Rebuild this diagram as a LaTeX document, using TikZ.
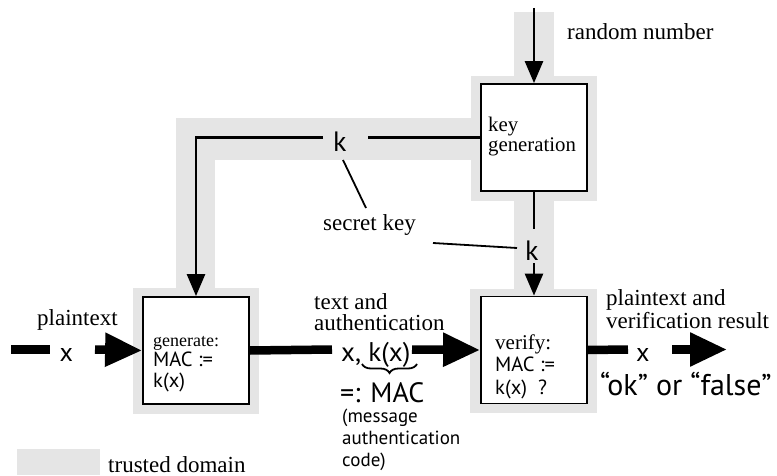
\documentclass[tikz,border=0pt]{standalone}
\usepackage{fontspec}
\setmainfont{Liberation Serif}
\newfontfamily\lsans{PT Sans}
\usetikzlibrary{arrows.meta,decorations.pathreplacing,calc}
\definecolor{trusted}{RGB}{229,229,229}

\begin{document}
\begin{tikzpicture}[x=1pt,y=-1pt,
  lbl/.style={font=\fontsize{23}{21}\selectfont, inner sep=0pt, anchor=base west, align=left},
  sanslbl/.style={font=\lsans\fontsize{27}{27}\selectfont, inner sep=0pt, anchor=base west},
  procbox/.style={draw, line width=1.8pt, fill=white, minimum width=106pt, minimum height=107pt, inner sep=0pt},
  boxtext/.style={inner sep=0pt, anchor=base west, align=left},
  keyline/.style={line width=2.7pt},
  keyarrow/.style={line width=2.7pt, -{Triangle[length=22pt,width=18pt]}},
  dataline/.style={line width=8.5pt},
  dataarrow/.style={line width=8.5pt, -{Triangle[length=37pt,width=32pt]}},
  leader/.style={line width=1.8pt},
]
\useasboundingbox (0,0) rectangle (777,476);

% trusted domain (union of light grey bands and halos)
\fill[trusted] (514,12) rectangle (554,77);
\fill[trusted] (471,76) rectangle (597,201);
\fill[trusted] (176,118) rectangle (472,160);
\fill[trusted] (176,159) rectangle (215,289);
\fill[trusted] (133,288) rectangle (259,414);
\fill[trusted] (514,200) rectangle (554,290);
\fill[trusted] (470,289) rectangle (597,413);

% processing blocks
\node[procbox] (keygen) at (534,137.5) {};
\node[procbox] (gen) at (196,350.5) {};
\node[procbox] (ver) at (534,350) {};

% multi-line texts are placed by the baseline of their last line
\node[boxtext, font=\fontsize{20.8}{20}\selectfont] (keygentext) at (488,152) {key\\generation};
\node[boxtext, font=\fontsize{18}{20.5}\selectfont] (gentext) at (153,387)
  {generate:\\{\lsans\fontsize{20.5}{20.5}\selectfont MAC :=}\\{\lsans\fontsize{20.5}{20.5}\selectfont k(x)}};
\node[boxtext, font=\fontsize{21}{22.5}\selectfont] (vertext) at (495,394)
  {verify:\\{\lsans\fontsize{20.5}{22.5}\selectfont MAC :=}\\{\lsans\fontsize{20.5}{22.5}\selectfont k(x)\ \ ?}};

% key distribution
\coordinate (rnd) at (534,8);
\draw[keyarrow] (rnd) -- (keygen.north);
\node[lbl] (rndlabel) at (567,40) {random number};

\node[sanslbl, font=\lsans\fontsize{28}{28}\selectfont] (ktop) at (333,152) {k};
\coordinate (kgapR) at (368,137.5);
\coordinate (kgapL) at (323,137.5);
\draw[keyline] (keygen.west) -- (kgapR);
\draw[keyarrow] (kgapL) -| (gen.north);

\node[sanslbl, font=\lsans\fontsize{28}{28}\selectfont] (kver) at (525,260) {k};
\coordinate (kvA) at (534,229);
\coordinate (kvB) at (534,263);
\draw[keyline] (keygen.south) -- (kvA);
\draw[keyarrow] (kvB) -- (ver.north);

\node[lbl] (secret) at (323,230) {secret key};
\coordinate (sA) at (343,160);
\coordinate (sB) at (366,208);
\coordinate (sC) at (433,243);
\coordinate (sD) at (517,248);
\draw[leader] (sA) -- (sB);
\draw[leader] (sC) -- (sD);

% message flow
\node[lbl] (plainlabel) at (37,325) {plaintext};
\node[sanslbl, font=\lsans\fontsize{26}{26}\selectfont] (xin) at (59.5,361) {x};
\coordinate (inA) at (11,349.5);
\coordinate (inB) at (50,349.5);
\coordinate (inC) at (95,349.5);
\draw[dataline] (inA) -- (inB);
\draw[dataarrow] (inC) -- (gen.west);

\node[lbl] (taglabel) at (314,330) {text and\\authentication};
\node[sanslbl] (xk) at (341,361) {x, k(x)};
\coordinate (mA) at (332,349.5);
\coordinate (mB) at (412,349.5);
\draw[dataline] (gen.east) -- (mA);
\draw[dataarrow] (mB) -- (ver.west);
\coordinate (brL) at (362,364);
\coordinate (brR) at (417,364);
\draw[line width=1.8pt, decorate, decoration={brace, mirror, amplitude=9pt}] (brL) -- (brR);
\node[sanslbl, font=\lsans\fontsize{28}{28}\selectfont] (mac) at (340,402) {=: MAC};
\node[boxtext, font=\lsans\fontsize{19}{22}\selectfont] (macnote) at (342,466)
  {(message\\authentication\\code)};

\node[lbl] (outlabel) at (606,328) {plaintext and\\verification result};
\node[sanslbl, font=\lsans\fontsize{26}{26}\selectfont] (xout) at (636,361) {x};
\coordinate (oA) at (628,349.5);
\coordinate (oB) at (672,349.5);
\coordinate (oC) at (727,349.5);
\draw[dataline] (ver.east) -- (oA);
\draw[dataarrow] (oB) -- (oC);
\node[sanslbl, font=\lsans\fontsize{30}{30}\selectfont] (result) at (600,395) {“ok” or “false”};

% legend
\fill[trusted] (17,449) rectangle (100,475);
\node[lbl] (legend) at (108,472) {trusted domain};
\end{tikzpicture}
\end{document}
